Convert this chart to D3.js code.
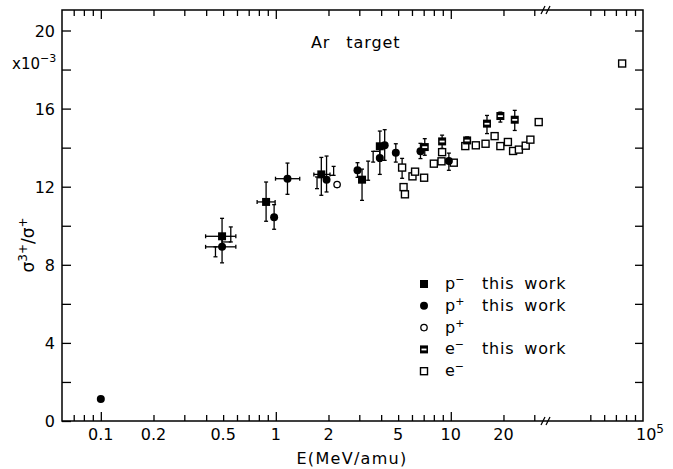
<!DOCTYPE html>
<html>
  <head>
    <title> Ar target </title>
    <script src="https://d3js.org/d3.v7.min.js"></script>
    <style>
      body { margin: 0; background: white; }
      text {
        font-family: "DejaVu Sans", Arial, sans-serif;
        font-size: 16px;
        fill: black;
      }
      .tick line { stroke: black; stroke-width: 1.3; }
      .bar { stroke: black; stroke-width: 1.3; fill: none; }
    </style>
  </head>
  <body>
    <svg id="main" width="673" height="469"></svg>
    <script>

      // p- this work (filled squares)
      var pmE    = [0.493, 0.880, 1.82, 3.11, 3.93];
      var pmY    = [9.46, 11.22, 12.63, 12.36, 14.07];
      var pmYlo  = [8.9, 10.23, 11.56, 11.3, 13.3];
      var pmYhi  = [10.38, 12.24, 13.5, 12.9, 14.85];
      var pmElo  = [0.397, 0.782, 1.65, null, null];
      var pmEhi  = [0.591, 0.991, 2.04, null, null];

      // p+ this work (filled circles)
      var ppE    = [0.1, 0.493, 0.978, 1.166, 1.95, 2.93, 3.93, 4.19, 4.85, 6.71, 9.75];
      var ppY    = [1.13, 8.92, 10.43, 12.41, 12.36, 12.84, 13.47, 14.12, 13.74, 13.81, 13.31];
      var ppYlo  = [null, 8.10, 9.82, 11.61, 11.73, 12.48, 12.63, 13.35, 13.26, 13.44, 12.84];
      var ppYhi  = [null, 9.5, 11.08, 13.21, 13.57, 13.23, 14.0, 14.92, 14.2, 14.22, 13.72];
      var ppElo  = [null, 0.397, null, 0.996, null, null, null, null, null, null, null];
      var ppEhi  = [null, 0.591, null, 1.37, null, null, null, null, null, null, null];

      // p+ (open circles)
      var poE = [2.24];
      var poY = [12.11];

      // e- this work (half filled squares)
      var etE   = [7.10, 8.92, 12.4, 16.1, 19.2, 23.2];
      var etY   = [14.03, 14.32, 14.37, 15.23, 15.62, 15.43];
      var etYlo = [13.61, 13.96, 14.2, 14.72, 15.31, 14.88];
      var etYhi = [14.46, 14.64, 14.55, 15.65, 15.82, 15.91];

      // e- (open squares)
      var eoE = [5.27, 5.37, 5.47, 6.04, 6.25, 7.04, 8.0, 8.85, 8.92, 10.4, 12.1, 13.9, 15.8,
                 17.8, 19.2, 21.2, 22.7, 24.5, 26.8, 28.5, 31.8, 7.6e4];
      var eoY = [12.98, 11.98, 11.61, 12.53, 12.77, 12.46, 13.18, 13.30, 13.77, 13.23, 14.08, 14.12, 14.2,
                 14.59, 14.08, 14.29, 13.83, 13.9, 14.1, 14.41, 15.31, 18.31];

      // loose error bars whose markers are hidden
      var exE     = [0.452, 0.553, 1.72, 2.14, 3.37, 3.6, 5.27];
      var exLo    = [8.41, 9.17, 11.9, 12.58, 12.33, 13.26, 12.43];
      var exHi    = [8.92, 9.94, 12.5, 13.04, 13.31, 13.81, 13.45];
      var exJoinE = [null, 0.493, null, 2.04, null, 3.93, null];
      var exJoinY = [null, 9.17, null, 12.58, null, 13.81, null];

      var leftMajor  = [0.1, 1, 10];
      var leftMinor  = [0.07, 0.08, 0.09, 0.2, 0.3, 0.4, 0.5, 0.6, 0.7, 0.8, 0.9,
                        2, 3, 4, 5, 6, 7, 8, 9, 20, 30];
      var rightMinor = [5e4, 6e4, 7e4, 8e4, 9e4];
      var xLabelVals = [0.1, 0.2, 0.5, 1, 2, 5, 10, 20];
      var xLabelText = ["0.1", "0.2", "0.5", "1", "2", "5", "10", "20"];
      var yMajor = [0, 4, 8, 12, 16, 20];
      var yMinor = [2, 6, 10, 14, 18];

      var legendText = [["p", "\u2212", "this work"], ["p", "+", "this work"], ["p", "+", ""],
                        ["e", "\u2212", "this work"], ["e", "\u2212", ""]];

      var LEFT = 62, RIGHT = 643, TOP = 10, BOTTOM = 421;
      var BREAK = 546;

      var xl = d3.scaleLog().domain([0.06, 35]).range([LEFT, BREAK]);
      var xr = d3.scaleLog().domain([3e4, 1e5]).range([551.5, RIGHT]);
      function x(e) { return e > 1000 ? xr(e) : xl(e); }
      var y = d3.scaleLinear().domain([0, 21.05]).range([BOTTOM, TOP]);

      var svg = d3.select('#main');

      // frame
      svg.append('rect')
        .attr('x', LEFT).attr('y', TOP)
        .attr('width', RIGHT - LEFT).attr('height', BOTTOM - TOP)
        .attr('fill', 'none').attr('stroke', 'black').attr('stroke-width', 1.5);

      function noDomain(g) { g.select('.domain').remove(); }

      // bottom + top ticks
      [[BOTTOM, d3.axisBottom], [TOP, d3.axisTop]].forEach(function(p) {
        svg.append('g').attr('transform', 'translate(0,' + p[0] + ')')
          .call(p[1](xl).tickValues(leftMajor).tickSize(-9).tickFormat('')).call(noDomain);
        svg.append('g').attr('transform', 'translate(0,' + p[0] + ')')
          .call(p[1](xl).tickValues(leftMinor).tickSize(-6).tickFormat('')).call(noDomain);
        svg.append('g').attr('transform', 'translate(0,' + p[0] + ')')
          .call(p[1](xr).tickValues(rightMinor).tickSize(-6).tickFormat('')).call(noDomain);
      });

      // x labels
      svg.append('g').selectAll('text')
        .data(xLabelVals)
        .enter().append('text')
        .attr('x', function(d) { return xl(d); })
        .attr('y', 440)
        .attr('text-anchor', 'middle')
        .text(function(d, i) { return xLabelText[i]; });

      var t5 = svg.append('text').attr('x', 636).attr('y', 440);
      t5.append('tspan').text('10');
      t5.append('tspan').attr('dy', -7).style('font-size', '12px').text('5');

      // axis break marks
      [BOTTOM, TOP].forEach(function(yy) {
        [0, 5].forEach(function(off) {
          svg.append('line')
            .attr('x1', BREAK - 5 + off).attr('y1', yy + 4)
            .attr('x2', BREAK - 1 + off).attr('y2', yy - 4)
            .attr('stroke', 'black').attr('stroke-width', 1.3);
        });
      });

      // y ticks
      svg.append('g').attr('transform', 'translate(' + LEFT + ',0)')
        .call(d3.axisLeft(y).tickValues(yMajor.concat(yMinor)).tickSize(-9).tickFormat(''))
        .call(noDomain);
      svg.append('g').attr('transform', 'translate(' + RIGHT + ',0)')
        .call(d3.axisRight(y).tickValues(yMajor.concat(yMinor).filter(function(d) { return d > 0; }))
          .tickSize(-8).tickFormat(''))
        .call(noDomain);

      svg.append('g').selectAll('text')
        .data(yMajor)
        .enter().append('text')
        .attr('x', 55)
        .attr('y', function(d) { return y(d) + 6; })
        .attr('text-anchor', 'end')
        .text(function(d) { return d; });

      var xm = svg.append('text').attr('x', 12).attr('y', 69).style('font-size', '15px');
      xm.append('tspan').text('x10');
      xm.append('tspan').attr('dy', -7).style('font-size', '11px').text('\u22123');

      // axis titles
      svg.append('text').attr('x', 352).attr('y', 464).attr('text-anchor', 'middle')
        .style('letter-spacing', '1.3px')
        .text('E(MeV/amu)');

      var yt = svg.append('text')
        .attr('transform', 'translate(34,245) rotate(-90)')
        .attr('text-anchor', 'middle')
        .style('font-size', '17px');
      yt.append('tspan').text('\u03c3');
      yt.append('tspan').attr('dy', -7).style('font-size', '12px').text('3+');
      yt.append('tspan').attr('dy', 7).text('/\u03c3');
      yt.append('tspan').attr('dy', -7).style('font-size', '12px').text('+');

      svg.append('text').attr('x', 311).attr('y', 48)
        .style('letter-spacing', '0.9px').style('word-spacing', '10px')
        .text('Ar target');

      // error bars
      var bars = svg.append('g');
      function vbar(e, lo, hi) {
        if (lo == null) return;
        var xx = x(e);
        bars.append('line').attr('class', 'bar')
          .attr('x1', xx).attr('x2', xx).attr('y1', y(lo)).attr('y2', y(hi));
        [lo, hi].forEach(function(v) {
          bars.append('line').attr('class', 'bar')
            .attr('x1', xx - 2).attr('x2', xx + 2).attr('y1', y(v)).attr('y2', y(v));
        });
      }
      function hbar(v, elo, ehi) {
        if (elo == null) return;
        bars.append('line').attr('class', 'bar')
          .attr('x1', x(elo)).attr('x2', x(ehi)).attr('y1', y(v)).attr('y2', y(v));
        [elo, ehi].forEach(function(e) {
          bars.append('line').attr('class', 'bar')
            .attr('x1', x(e)).attr('x2', x(e)).attr('y1', y(v) - 2).attr('y2', y(v) + 2);
        });
      }

      for (var i = 0; i < pmE.length; i++) {
        vbar(pmE[i], pmYlo[i], pmYhi[i]);
        hbar(pmY[i], pmElo[i], pmEhi[i]);
      }
      for (var i = 0; i < ppE.length; i++) {
        vbar(ppE[i], ppYlo[i], ppYhi[i]);
        hbar(ppY[i], ppElo[i], ppEhi[i]);
      }
      for (var i = 0; i < etE.length; i++) {
        vbar(etE[i], etYlo[i], etYhi[i]);
      }
      for (var i = 0; i < exE.length; i++) {
        vbar(exE[i], exLo[i], exHi[i]);
        if (exJoinE[i] != null) {
          bars.append('line').attr('class', 'bar')
            .attr('x1', x(exE[i])).attr('x2', x(exJoinE[i]))
            .attr('y1', y(exJoinY[i])).attr('y2', y(exJoinY[i]));
        }
      }

      // markers
      var S = 8;
      function openSquare(g, cx, cy) {
        g.append('rect').attr('x', cx - S / 2 + 0.5).attr('y', cy - S / 2 + 0.5)
          .attr('width', S - 1).attr('height', S - 1)
          .attr('fill', 'white').attr('stroke', 'black').attr('stroke-width', 1.4);
      }
      function fullSquare(g, cx, cy) {
        g.append('rect').attr('x', cx - S / 2).attr('y', cy - S / 2)
          .attr('width', S).attr('height', S).attr('fill', 'black');
      }
      function halfSquare(g, cx, cy) {
        fullSquare(g, cx, cy);
        g.append('rect').attr('x', cx - S / 2 + 1.5).attr('y', cy - 0.8)
          .attr('width', S - 3).attr('height', 1.8).attr('fill', 'white');
      }
      function fullCircle(g, cx, cy) {
        g.append('circle').attr('cx', cx).attr('cy', cy).attr('r', 4).attr('fill', 'black');
      }
      function openCircle(g, cx, cy) {
        g.append('circle').attr('cx', cx).attr('cy', cy).attr('r', 3.2)
          .attr('fill', 'white').attr('stroke', 'black').attr('stroke-width', 1.3);
      }

      var marks = svg.append('g');
      eoE.forEach(function(e, i) { openSquare(marks, x(e), y(eoY[i])); });
      poE.forEach(function(e, i) { openCircle(marks, x(e), y(poY[i])); });
      ppE.forEach(function(e, i) { fullCircle(marks, x(e), y(ppY[i])); });
      pmE.forEach(function(e, i) { fullSquare(marks, x(e), y(pmY[i])); });
      etE.forEach(function(e, i) { halfSquare(marks, x(e), y(etY[i])); });

      // legend
      var drawers = [fullSquare, fullCircle, openCircle, halfSquare, openSquare];
      var leg = svg.append('g');
      legendText.forEach(function(t, i) {
        var ly = 284 + i * 21.8;
        drawers[i](leg, 424, ly);
        var tx = leg.append('text').attr('x', 445).attr('y', ly + 5);
        tx.append('tspan').text(t[0]);
        tx.append('tspan').attr('dy', -6).style('font-size', '11px').text(t[1]);
        if (t[2]) {
          leg.append('text').attr('x', 482).attr('y', ly + 5)
            .style('letter-spacing', '0.8px').style('word-spacing', '4px')
            .text(t[2]);
        }
      });

    </script>
  </body>
</html>
